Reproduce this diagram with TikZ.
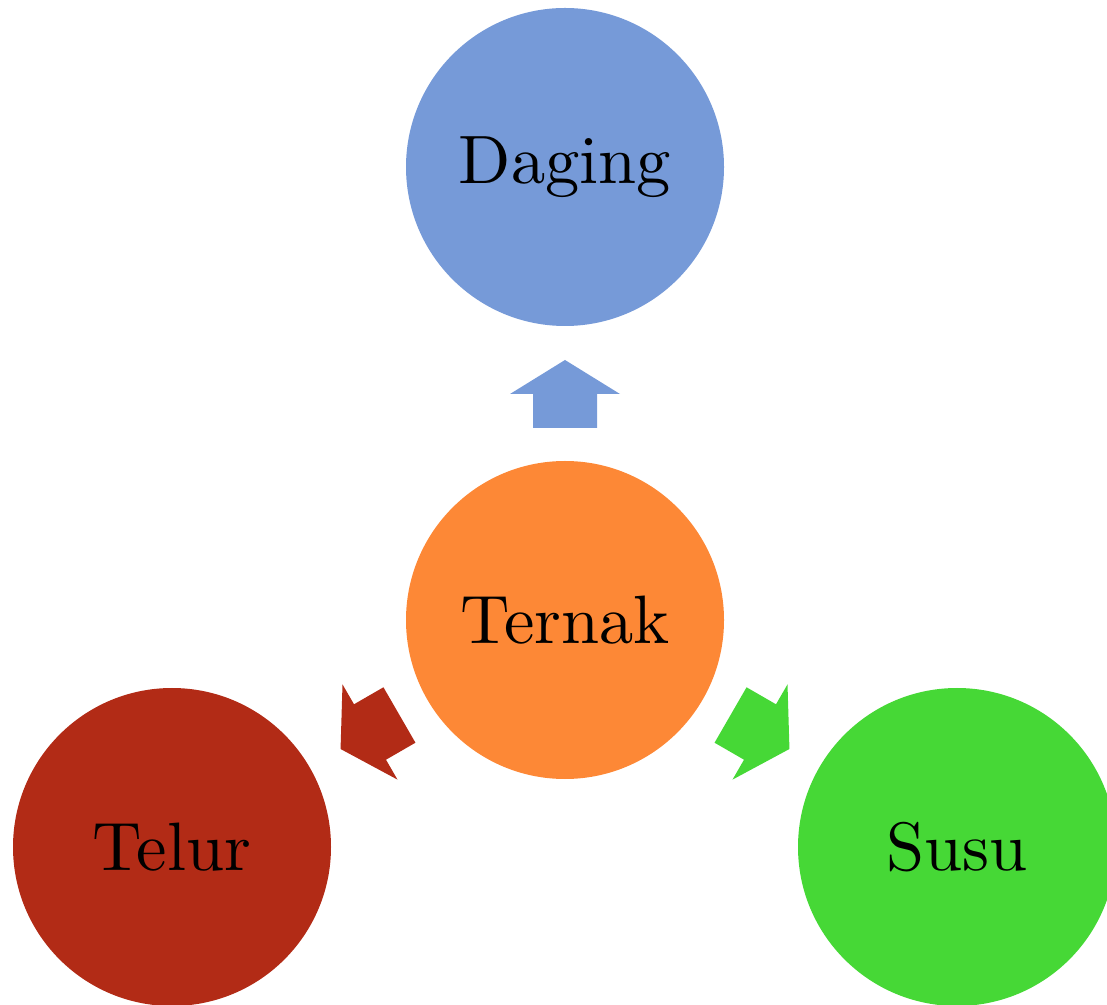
\documentclass[tikz,border=0pt]{standalone}
\usepackage{fontspec}
\setmainfont{lmroman10-regular.otf}
\definecolor{cblue}{RGB}{118,154,216}
\definecolor{corange}{RGB}{253,136,54}
\definecolor{cred}{RGB}{178,43,22}
\definecolor{cgreen}{RGB}{70,216,54}
\tikzset{
  bubble/.style={circle, inner sep=0pt, minimum size=318pt, font=\fontsize{68.5}{80}\selectfont, text=black},
  fatarrow/.pic={\fill (-34,-32) -- (0,-32) -- (0,-55) -- (34,0) -- (0,55) -- (0,32) -- (-34,32) -- cycle;}
}
\begin{document}
\begin{tikzpicture}[x=1pt,y=1pt]
\useasboundingbox (0,0) rectangle (1107,1004);
\node[bubble, fill=cblue] (daging) at (565,837) {Daging};
\node[bubble, fill=corange] (ternak) at (565,384) {Ternak};
\node[bubble, fill=cred] (telur) at (172,157) {Telur};
\node[bubble, fill=cgreen] (susu) at (957,157) {Susu};
\pic[cblue, rotate=90] at (565,610) {fatarrow};
\pic[cred, rotate=210] at (370,272) {fatarrow};
\pic[cgreen, rotate=-30] at (760,272) {fatarrow};
\end{tikzpicture}
\end{document}
